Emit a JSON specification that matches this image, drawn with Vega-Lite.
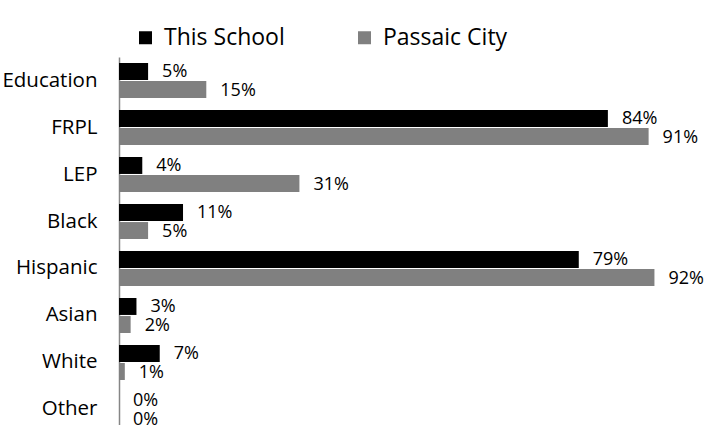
{
  "$schema": "https://vega.github.io/schema/vega-lite/v6.json",
  "autosize": {"type": "none"},
  "padding": {"left": 119, "top": 57, "right": 6, "bottom": 0},
  "width": 582,
  "height": 376,
  "config": {
    "font": "Open Sans",
    "view": {"stroke": null}
  },
  "data": {
    "values": [
      {"category": "Education", "series": "This School", "value": 0.05},
      {"category": "Education", "series": "Passaic City", "value": 0.15},
      {"category": "FRPL", "series": "This School", "value": 0.84},
      {"category": "FRPL", "series": "Passaic City", "value": 0.91},
      {"category": "LEP", "series": "This School", "value": 0.04},
      {"category": "LEP", "series": "Passaic City", "value": 0.31},
      {"category": "Black", "series": "This School", "value": 0.11},
      {"category": "Black", "series": "Passaic City", "value": 0.05},
      {"category": "Hispanic", "series": "This School", "value": 0.79},
      {"category": "Hispanic", "series": "Passaic City", "value": 0.92},
      {"category": "Asian", "series": "This School", "value": 0.03},
      {"category": "Asian", "series": "Passaic City", "value": 0.02},
      {"category": "White", "series": "This School", "value": 0.07},
      {"category": "White", "series": "Passaic City", "value": 0.01},
      {"category": "Other", "series": "This School", "value": 0.0},
      {"category": "Other", "series": "Passaic City", "value": 0.0}
    ]
  },
  "encoding": {
    "y": {
      "field": "category",
      "type": "nominal",
      "sort": ["Education", "FRPL", "LEP", "Black", "Hispanic", "Asian", "White", "Other"],
      "scale": {"paddingInner": 0.255, "paddingOuter": 0.128},
      "axis": {
        "title": null,
        "ticks": false,
        "labelPadding": 22,
        "labelFontSize": 20.5,
        "labelColor": "#000000",
        "domainColor": "#868686",
        "domainWidth": 1.5
      }
    },
    "yOffset": {
      "field": "series",
      "type": "nominal",
      "sort": ["This School", "Passaic City"],
      "scale": {"paddingInner": 0.06}
    },
    "x": {
      "field": "value",
      "type": "quantitative",
      "scale": {"domain": [0, 1]},
      "axis": null
    }
  },
  "layer": [
    {
      "mark": {"type": "bar"},
      "encoding": {
        "color": {
          "field": "series",
          "type": "nominal",
          "sort": ["This School", "Passaic City"],
          "scale": {"domain": ["This School", "Passaic City"], "range": ["#000000", "#808080"]},
          "legend": {
            "title": null,
            "orient": "none",
            "direction": "horizontal",
            "legendX": 15,
            "legendY": -31,
            "padding": 0,
            "symbolType": "square",
            "symbolSize": 169,
            "symbolStrokeWidth": 0,
            "labelFontSize": 23,
            "labelColor": "#000000",
            "labelOffset": 7,
            "columnPadding": 68
          }
        }
      }
    },
    {
      "mark": {"type": "text", "align": "left", "baseline": "middle", "dx": 14, "dy": 1, "fontSize": 18, "color": "#000000"},
      "encoding": {
        "text": {"field": "value", "type": "quantitative", "format": ".0%"}
      }
    }
  ]
}
